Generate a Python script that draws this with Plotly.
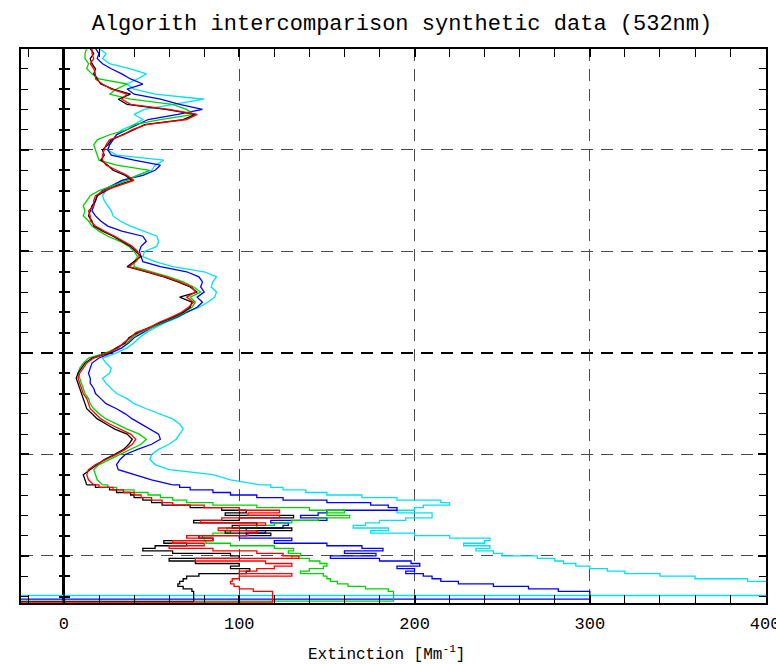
import plotly.graph_objects as go

# altitude bins (km), top part (coarse) and lowest part (fine)
alt_upper = [round(6.0 - 0.05 * i, 3) for i in range(87)]      # 6.00 .. 1.70
alt_lower = [round(1.70 - 0.025 * i, 3) for i in range(43)]    # 1.70 .. 0.65

black_upper = [15, 17, 15, 16, 18, 17, 19, 21, 28, 38,
               31, 36, 58, 75, 68, 46, 40, 33, 27, 25,
               22, 23, 21, 25, 28, 35, 39, 30, 24, 19,
               18, 16, 15, 14, 16, 17, 22, 28, 33, 38,
               41, 44, 40, 36, 47, 57, 65, 72, 76, 66,
               73, 72, 68, 62, 55, 48, 42, 37, 35, 30,
               26, 16, 12, 10, 8, 7, 8, 9, 10, 11,
               12, 13, 16, 19, 24, 29, 36, 39, 37, 34,
               29, 23, 19, 15, 11, 12, 13]
black_lower = [13, 18, 26, 30, 38, 40, 45, 50, 56, 72,
               90, 104, 92, 131, 100, 74, 110, 96, 130, 92,
               118, 77, 85, 57, 70, 52, 45, 62, 95, 100,
               60, 75, 100, 95, 106, 104, 77, 70, 68, 66,
               65, 68, 73]

red_upper = [16, 16, 17, 15, 17, 18, 18, 22, 27, 36,
             33, 38, 60, 76, 70, 47, 39, 34, 26, 24,
             23, 22, 22, 24, 30, 36, 40, 31, 23, 18,
             17, 17, 14, 15, 15, 18, 23, 29, 34, 39,
             42, 43, 41, 37, 48, 58, 66, 73, 75, 70,
             74, 71, 67, 61, 54, 49, 41, 38, 34, 31,
             25, 17, 13, 11, 9, 8, 9, 10, 11, 13,
             14, 15, 18, 21, 26, 32, 38, 41, 39, 35,
             30, 24, 18, 14, 13, 14, 17]
red_lower = [17, 20, 28, 34, 40, 44, 50, 56, 62, 80,
             100, 123, 105, 123, 90, 78, 115, 100, 88, 110,
             105, 70, 85, 62, 80, 60, 85, 110, 125, 134,
             75, 115, 130, 120, 110, 100, 130, 100, 96, 95,
             97, 100, 108]

green_upper = [13, 12, 12, 14, 13, 16, 20, 36, 30, 26,
               38, 62, 70, 74, 55, 40, 36, 26, 19, 17,
               18, 19, 20, 30, 49, 42, 36, 28, 20, 15,
               13, 11, 12, 11, 14, 16, 20, 25, 32, 37,
               40, 42, 40, 40, 50, 60, 68, 74, 78, 72,
               75, 73, 69, 63, 56, 50, 43, 39, 36, 30,
               24, 14, 11, 9, 8, 9, 10, 11, 12, 14,
               15, 17, 20, 24, 30, 36, 43, 47, 44, 38,
               32, 26, 20, 17, 18, 19, 22]
green_lower = [22, 25, 30, 40, 48, 55, 62, 70, 85, 110,
               140, 160, 150, 163, 145, 130, 120, 110, 93, 95,
               85, 79, 80, 81, 95, 120, 131, 128, 135, 130,
               140, 146, 150, 148, 140, 135, 148, 150, 152, 156,
               162, 172, 185]

blue_upper = [18, 20, 19, 22, 27, 33, 38, 45, 36, 40,
              55, 66, 79, 65, 48, 42, 36, 30, 28, 26,
              25, 27, 40, 55, 52, 45, 33, 27, 22, 19,
              18, 17, 16, 18, 21, 25, 33, 45, 47, 44,
              43, 44, 45, 55, 70, 77, 79, 78, 80, 76,
              79, 76, 70, 64, 57, 50, 45, 40, 37, 33,
              27, 20, 16, 15, 14, 15, 15, 17, 18, 21,
              24, 30, 35, 39, 44, 49, 54, 55, 50, 42,
              35, 32, 30, 31, 40, 50, 62]
blue_lower = [62, 66, 72, 85, 95, 110, 125, 150, 175, 185,
              190, 150, 145, 135, 150, 118, 128, 125, 104, 115,
              104, 100, 130, 120, 150, 170, 182, 160, 178, 152,
              180, 198, 203, 190, 200, 195, 205, 210, 215, 225,
              245, 265, 282]

cyan_upper = [20, 24, 22, 26, 38, 47, 42, 36, 40, 52,
              80, 62, 46, 40, 45, 40, 33, 30, 28, 26,
              25, 30, 57, 52, 50, 42, 34, 28, 24, 22,
              23, 25, 27, 28, 32, 38, 45, 53, 54, 53,
              46, 45, 52, 62, 80, 87, 85, 84, 87, 86,
              82, 77, 70, 65, 58, 52, 47, 43, 40, 36,
              30, 22, 24, 27, 26, 22, 24, 27, 30, 36,
              40, 47, 55, 62, 66, 68, 66, 64, 60, 54,
              50, 49, 52, 60, 85, 95, 112]
cyan_lower = [112, 118, 125, 138, 150, 170, 190, 215, 220, 205,
              200, 190, 210, 210, 195, 180, 172, 165, 185, 175,
              200, 220, 243, 240, 228, 243, 235, 245, 250, 270,
              280, 285, 292, 300, 310, 320, 340, 360, 390, 405,
              430, 450, 470]

# lowest bins (surface artefacts)
black_tail_alt, black_tail = [0.55, 0.545], [74, -60]
red_tail_alt, red_tail = [0.545, 0.54], [119, -60]
green_tail_alt, green_tail = [0.555, 0.55], [188, -60]
blue_tail_alt, blue_tail = [0.575, 0.57], [300, -60]
cyan_tail_alt, cyan_tail = [0.61, 0.60], [470, -60]

series = [
    (cyan_upper, cyan_lower, cyan_tail_alt, cyan_tail, "#00e1f0"),
    (blue_upper, blue_lower, blue_tail_alt, blue_tail, "#0000ff"),
    (green_upper, green_lower, green_tail_alt, green_tail, "#00d200"),
    (black_upper, black_lower, black_tail_alt, black_tail, "#000000"),
    (red_upper, red_lower, red_tail_alt, red_tail, "#ff0000"),
]

X_RANGE = [-24.5, 400.5]
Y_RANGE = [0.536, 5.995]

fig = go.Figure()
for up, low, talt, tvals, col in series:
    fig.add_trace(go.Scatter(
        x=up, y=alt_upper, mode="lines",
        line=dict(color=col, width=1.3), showlegend=False,
    ))
    fig.add_trace(go.Scatter(
        x=low + tvals, y=alt_lower + talt, mode="lines",
        line=dict(color=col, width=1.3, shape="hv"), showlegend=False,
    ))

MONO = "Liberation Mono"
grid_dash = "12px,8px"
grid_col = "#4a4a4a"
x0_pos = (0 - X_RANGE[0]) / (X_RANGE[1] - X_RANGE[0])

fig.update_layout(
    width=776, height=664,
    margin=dict(l=21, r=10, t=49, b=61, autoexpand=False),
    paper_bgcolor="white", plot_bgcolor="white",
    title=dict(text="Algorith intercomparison synthetic data (532nm)",
               font=dict(family=MONO, size=22, color="black"),
               x=0.518, xref="container", xanchor="center",
               y=1 - 22 / 664, yref="container", yanchor="middle"),
    xaxis=dict(
        range=X_RANGE, tick0=0, dtick=100, ticks="inside", ticklen=8,
        tickwidth=1.5, tickcolor="black", showline=True, linecolor="black",
        linewidth=2, mirror="allticks", showgrid=True, gridcolor=grid_col,
        gridwidth=1.3, griddash=grid_dash, zeroline=True, zerolinecolor="black",
        zerolinewidth=2.5, automargin=False,
        minor=dict(tick0=0, dtick=20, ticks="inside", ticklen=6,
                   tickcolor="black", tickwidth=1.2, showgrid=False),
        tickfont=dict(family=MONO, size=17, color="black"),
        ticklabelstandoff=4, ticklabeloverflow="allow",
    ),
    yaxis=dict(
        range=Y_RANGE, tick0=0, dtick=1, ticks="inside", ticklen=8,
        tickwidth=1.5, tickcolor="black", showline=True, linecolor="black",
        linewidth=2, mirror="allticks", showgrid=True, gridcolor=grid_col,
        gridwidth=1.3, griddash=grid_dash, zeroline=False, showticklabels=False,
        automargin=False,
        minor=dict(tick0=0, dtick=0.2, ticks="inside", ticklen=7,
                   tickcolor="black", tickwidth=1.2, showgrid=False),
    ),
    yaxis2=dict(
        range=Y_RANGE, overlaying="y", tickvals=[3], showticklabels=False,
        ticks="", showgrid=True, gridcolor="black", gridwidth=2.4,
        griddash=grid_dash, zeroline=False, showline=False, automargin=False,
    ),
    yaxis3=dict(
        range=Y_RANGE, overlaying="y", anchor="free", position=x0_pos,
        side="left", tick0=0, dtick=0.2, ticks="outside", ticklen=5,
        tickwidth=1.5, tickcolor="black", showticklabels=False,
        showgrid=False, zeroline=False, showline=False, automargin=False,
    ),
    yaxis4=dict(
        range=Y_RANGE, overlaying="y", anchor="free", position=x0_pos,
        side="left", tick0=0, dtick=0.2, ticks="inside", ticklen=5,
        tickwidth=1.5, tickcolor="black", showticklabels=False,
        showgrid=False, zeroline=False, showline=False, automargin=False,
    ),
    annotations=[dict(
        text="Extinction [Mm<sup>-1</sup>]", xref="paper", yref="paper",
        x=0.49, y=-50 / 554, xanchor="center", yanchor="middle",
        showarrow=False, font=dict(family=MONO, size=16, color="black"),
    )],
)

# invisible helper traces so the overlay axes are drawn
for ax in ["y2", "y3", "y4"]:
    fig.add_trace(go.Scatter(x=[None], y=[None], yaxis=ax, showlegend=False,
                             hoverinfo="skip"))

fig.write_html("out.html")
